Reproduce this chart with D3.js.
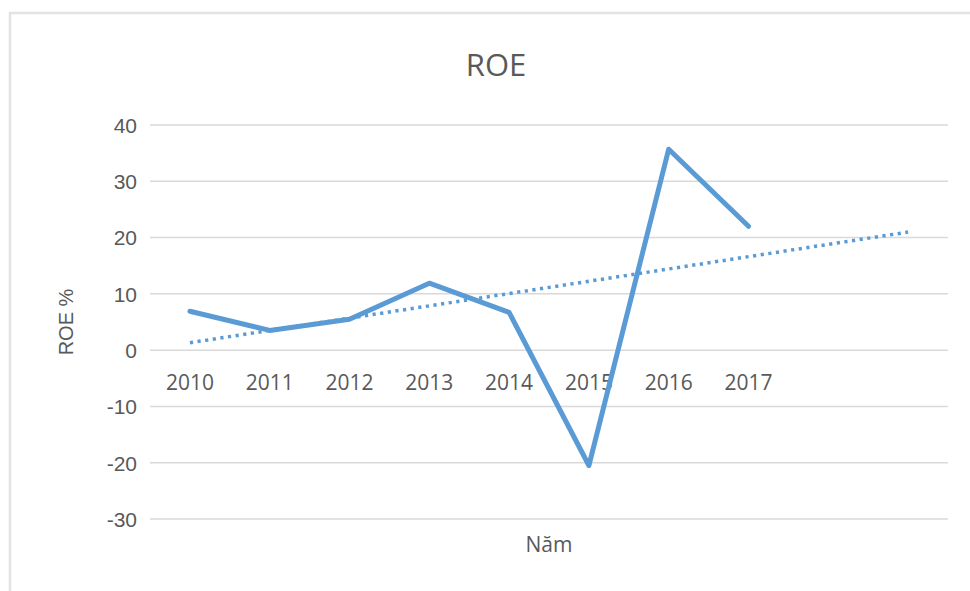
<!DOCTYPE html>
<html><head><meta charset="utf-8">
<script src="https://cdn.jsdelivr.net/npm/d3@7"></script>
<style>
html,body{margin:0;padding:0;background:#fff;}
text{fill:#595959;}
</style></head>
<body>
<svg id="c" width="970" height="591"></svg>
<script>
const years = ["2010","2011","2012","2013","2014","2015","2016","2017"];
const roe = [6.9, 3.5, 5.5, 11.9, 6.7, -20.5, 35.7, 22.0];
const yTicks = [-30,-20,-10,0,10,20,30,40];
const trendForward = 2; // periods forward

const svg = d3.select("#c");
const plot = {left:150, right:948, top:125, bottom:519};
const OS = "'Open Sans',sans-serif", LS = "'Liberation Sans',Arial,sans-serif";

// frame
svg.append("rect").attr("x",10).attr("y",13).attr("width",980).attr("height",600)
  .attr("fill","none").attr("stroke","#e3e3e3").attr("stroke-width",2.5);

const slots = d3.range(years.length + trendForward);
const x = d3.scaleBand().domain(slots).range([plot.left, plot.right]);
const cx = i => x(i) + x.bandwidth()/2;
const y = d3.scaleLinear().domain([-30,40]).range([plot.bottom, plot.top]);

// gridlines
svg.append("g").selectAll("line").data(yTicks).join("line")
  .attr("x1",plot.left).attr("x2",plot.right)
  .attr("y1",d=>y(d)).attr("y2",d=>y(d))
  .attr("stroke","#d9d9d9").attr("stroke-width",1.5);

// y axis labels
const yAxis = d3.axisLeft(y).tickValues(yTicks).tickFormat(d=>String(d)).tickSize(0).tickPadding(13);
const gy = svg.append("g").attr("transform",`translate(${plot.left},0)`).call(yAxis);
gy.select(".domain").remove();
gy.selectAll("text").style("font-family",LS).style("font-size","21px").style("fill","#595959").attr("dy","0.35em");

// x labels (next to zero line)
const xAxis = d3.axisBottom(x).tickValues(d3.range(years.length)).tickFormat(i=>years[i]).tickSize(0).tickPadding(25);
const gx = svg.append("g").attr("transform",`translate(0,${y(0)})`).call(xAxis);
gx.select(".domain").remove();
gx.selectAll("text").style("font-family",OS).style("font-size","21px").style("fill","#595959");

// trend line (linear regression)
const xs = roe.map((v,i)=>i+1);
const mx = d3.mean(xs), my = d3.mean(roe);
const slope = d3.sum(xs.map((xx,i)=>(xx-mx)*(roe[i]-my))) / d3.sum(xs.map(xx=>(xx-mx)**2));
const icpt = my - slope*mx;
const trendPts = [0, years.length-1+trendForward].map(i=>[cx(i), y(icpt + slope*(i+1))]);
svg.append("path").attr("d", d3.line()(trendPts))
  .attr("fill","none").attr("stroke","#5b9bd5").attr("stroke-width",3.5)
  .attr("stroke-dasharray","3.2 4.5");

// data line
const line = d3.line().x((d,i)=>cx(i)).y(d=>y(d));
svg.append("path").attr("d", line(roe))
  .attr("fill","none").attr("stroke","#5b9bd5").attr("stroke-width",5)
  .attr("stroke-linejoin","round").attr("stroke-linecap","round");

// title
svg.append("text").attr("x",496).attr("y",76)
  .attr("text-anchor","middle").style("font-family",OS).style("font-size","31px").text("ROE");

// axis titles
svg.append("text").attr("x",(plot.left+plot.right)/2).attr("y",552)
  .attr("text-anchor","middle").style("font-family",OS).style("font-size","21px").text("Năm");
svg.append("text").attr("transform",`translate(73,${(plot.top+plot.bottom)/2}) rotate(-90)`)
  .attr("text-anchor","middle").style("font-family",LS).style("font-size","20px").text("ROE %");
</script>
</body></html>
